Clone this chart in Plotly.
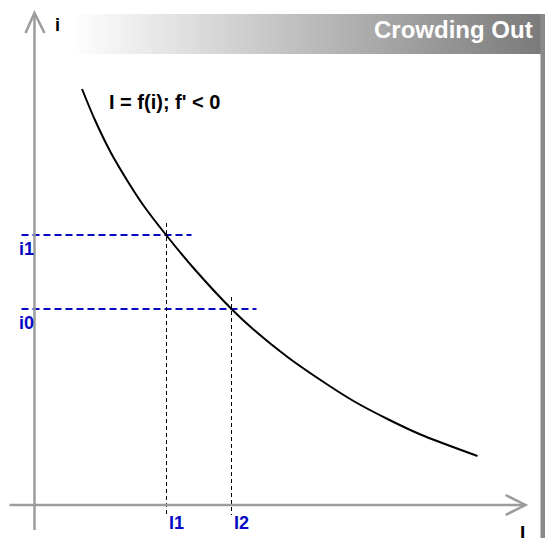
import plotly.graph_objects as go

# ---- data (units: 1 unit = 1 px, origin at the axes' corner) ----
curve_I = [47.5, 60, 76, 93, 109, 132, 159, 197, 219, 253, 286, 319, 353, 386, 443]
curve_i = [416, 386, 353, 324, 299.5, 269.5, 237, 196, 175.5, 148, 125, 104, 86, 70.5, 49]

rate_labels = ["i1", "i0"]
rate_values = [270, 196]
invest_labels = ["I1", "I2"]
invest_values = [132, 197]

title_text = "Crowding Out"
curve_label = "I = f(i); f' < 0"
x_axis_label = "I"
y_axis_label = "i"

FONT = "Arial, Liberation Sans, sans-serif"
BLUE = "#0808c4"
AXIS_GRAY = "#9c9c9c"

fig = go.Figure()

# header gradient band
fig.add_trace(go.Scatter(
    x=[38, 507, 507, 38, 38], y=[491, 491, 451, 451, 491],
    mode="lines", line=dict(width=0), fill="toself",
    fillgradient=dict(type="horizontal",
                      colorscale=[[0, "#ffffff"], [1, "#7a7a7a"]]),
    hoverinfo="skip", showlegend=False))

# dashed guide lines
for lab, v, Ival in zip(rate_labels, rate_values, invest_values):
    fig.add_trace(go.Scatter(x=[-13, Ival + 25], y=[v, v], mode="lines",
                             line=dict(color=BLUE, width=2, dash="7px,4px"),
                             hoverinfo="skip", showlegend=False))
for lab, Ival, v in zip(invest_labels, invest_values, rate_values):
    fig.add_trace(go.Scatter(x=[Ival, Ival], y=[v + 12, -10], mode="lines",
                             line=dict(color="black", width=1, dash="4px,3px"),
                             hoverinfo="skip", showlegend=False))

# investment curve
fig.add_trace(go.Scatter(x=curve_I, y=curve_i, mode="lines",
                         line=dict(color="black", width=2, shape="spline", smoothing=0.8),
                         hoverinfo="skip", showlegend=False))

shapes = [
    # y axis with open arrow
    dict(type="line", x0=0, x1=0, y0=-25, y1=492, line=dict(color=AXIS_GRAY, width=2.5)),
    dict(type="path", path="M -9,472 L 0,492 L 10,472", line=dict(color=AXIS_GRAY, width=2.5)),
    # x axis with open arrow
    dict(type="line", x0=-25, x1=491, y0=0, y1=0, line=dict(color=AXIS_GRAY, width=2.5)),
    dict(type="path", path="M 471,10 L 491,0 L 471,-10", line=dict(color=AXIS_GRAY, width=2.5)),
    # right gray strip
    dict(type="rect", x0=506, x1=512, y0=491, y1=-40, line=dict(width=0), fillcolor="#8a8a8a"),
]

annotations = [
    dict(x=500, y=476, text="<b>" + title_text + "</b>", xanchor="right", yanchor="middle",
         font=dict(family=FONT, size=24, color="white")),
    dict(x=72, y=403, text="<b>" + curve_label + "</b>", xanchor="left", yanchor="middle",
         font=dict(family=FONT, size=20, color="black")),
    dict(x=23, y=480, text="<b>" + y_axis_label + "</b>", xanchor="center", yanchor="middle",
         font=dict(family=FONT, size=18, color="black")),
    dict(x=488, y=-15, text="<b>" + x_axis_label + "</b>", xanchor="center", yanchor="top",
         font=dict(family=FONT, size=19, color="black")),
]
for lab, v in zip(rate_labels, rate_values):
    annotations.append(dict(x=-8.5, y=v - 14, text="<b>" + lab + "</b>", xanchor="center",
                            yanchor="middle", font=dict(family=FONT, size=18, color=BLUE)))
for lab, Ival in zip(invest_labels, invest_values):
    annotations.append(dict(x=Ival + 10, y=-18, text="<b>" + lab + "</b>", xanchor="center",
                            yanchor="middle", font=dict(family=FONT, size=18, color=BLUE)))
for a in annotations:
    a["showarrow"] = False

fig.update_layout(
    width=545, height=538,
    margin=dict(l=0, r=0, t=0, b=0, pad=0),
    paper_bgcolor="white", plot_bgcolor="white",
    xaxis=dict(range=[-34.5, 510.5], visible=False, fixedrange=True),
    yaxis=dict(range=[-33, 505], visible=False, fixedrange=True),
    shapes=shapes, annotations=annotations,
    showlegend=False,
)

fig.write_html("out.html", config={"displayModeBar": False, "staticPlot": True},
               post_script="document.body.style.margin='0';document.body.style.overflow='hidden';")
